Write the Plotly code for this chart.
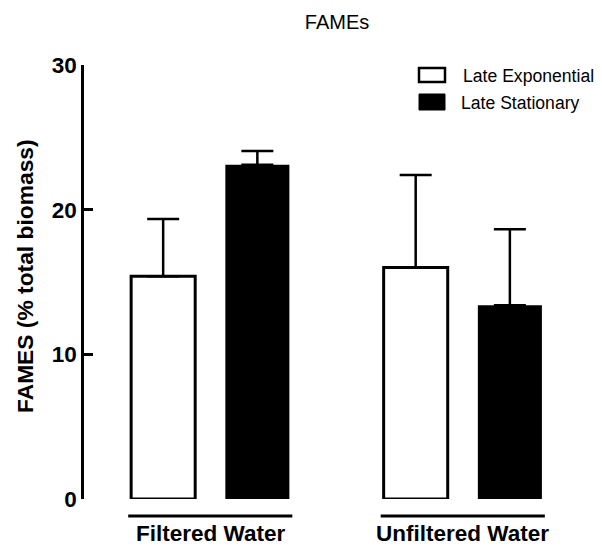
import plotly.graph_objects as go

# Data: FAMEs content (% of total biomass), mean and upper error (SD)
groups = ["Filtered Water", "Unfiltered Water"]
series_names = ["Late Exponential", "Late Stationary"]
exp_mean = [15.4, 16.0]
exp_err = [3.95, 6.4]
stat_mean = [23.1, 13.4]
stat_err = [0.95, 5.25]

y_ticks = [0, 10, 20, 30]

W, H = 602, 548
L, R, T, B = 84, 42, 65, 49
pw, ph = W - L - R, H - T - B

def px_x(x):
    return (x - L) / pw

def px_y(y):
    return (H - B - y) / ph

FONT = "Liberation Sans, Arial, sans-serif"

fig = go.Figure()
fig.add_trace(go.Bar(
    x=groups, y=exp_mean, name=series_names[0],
    marker=dict(color="white", line=dict(color="black", width=3)),
    error_y=dict(type="data", array=exp_err, arrayminus=[0] * len(exp_err),
                 symmetric=False, color="black", thickness=2.5, width=16),
    showlegend=False,
))
fig.add_trace(go.Bar(
    x=groups, y=stat_mean, name=series_names[1],
    marker=dict(color="black", line=dict(color="black", width=0)),
    error_y=dict(type="data", array=stat_err, arrayminus=[0] * len(stat_err),
                 symmetric=False, color="black", thickness=2.5, width=16),
    showlegend=False,
))

shapes = []
annotations = []
# Group underline and label below each pair of bars
for i, g in enumerate(groups):
    shapes.append(dict(type="line", xref="x", yref="paper",
                       x0=i - 0.325, x1=i + 0.325, y0=px_y(516), y1=px_y(516),
                       line=dict(color="black", width=3)))
    annotations.append(dict(text=g, x=g, xref="x", y=px_y(533), yref="paper",
                            xanchor="center", yanchor="middle", showarrow=False,
                            font=dict(family=FONT, size=22.5, color="black", weight="bold")))

# Legend boxes and labels
shapes.append(dict(type="rect", xref="paper", yref="paper",
                   x0=px_x(419), x1=px_x(445), y0=px_y(82), y1=px_y(68),
                   fillcolor="white", line=dict(color="black", width=2.5)))
shapes.append(dict(type="rect", xref="paper", yref="paper",
                   x0=px_x(419), x1=px_x(445), y0=px_y(110), y1=px_y(94),
                   fillcolor="black", line=dict(color="black", width=1)))
annotations.append(dict(text=series_names[0], x=px_x(461), y=px_y(76), xref="paper", yref="paper",
                        xanchor="left", yanchor="middle", showarrow=False,
                        font=dict(family=FONT, size=17.6, color="black")))
annotations.append(dict(text=series_names[1], x=px_x(459), y=px_y(103), xref="paper", yref="paper",
                        xanchor="left", yanchor="middle", showarrow=False,
                        font=dict(family=FONT, size=17.6, color="black")))

# Y-axis title
annotations.append(dict(text="FAMES (% total biomass)", x=px_x(25), y=px_y(276),
                        xref="paper", yref="paper", textangle=-90,
                        xanchor="center", yanchor="middle", showarrow=False,
                        font=dict(family=FONT, size=22.8, color="black", weight="bold")))

fig.update_layout(
    width=W, height=H,
    margin=dict(l=L, r=R, t=T, b=B, pad=0),
    paper_bgcolor="white", plot_bgcolor="white",
    barmode="group", bargap=0.254, bargroupgap=0.32,
    title=dict(text="FAMEs", x=337 / W, xref="container", xanchor="center",
               y=1 - 22 / H, yref="container", yanchor="middle",
               font=dict(family=FONT, size=20, color="black")),
    xaxis=dict(range=[-0.5, 1.385], showline=False, showgrid=False, zeroline=False,
               showticklabels=False, ticks=""),
    yaxis=dict(range=[0, 30], tickvals=y_ticks, showline=True, linecolor="black",
               linewidth=2.5, ticks="inside", ticklen=9, tickwidth=2.5, tickcolor="black",
               showgrid=False, zeroline=False,
               tickfont=dict(family=FONT, size=22.5, color="black", weight="bold")),
    shapes=shapes, annotations=annotations,
)

fig.write_html("out.html")
